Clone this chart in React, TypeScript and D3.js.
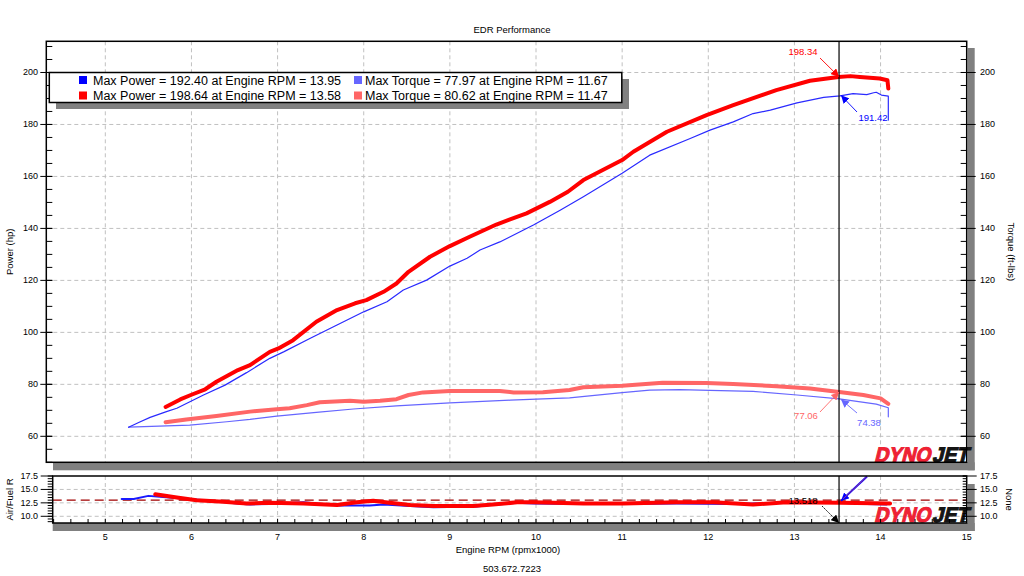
import React from "react";
import * as d3 from "d3";

// ---------- data ----------
const powerRun1Rpm = [5.27, 5.4, 5.52, 5.71, 5.83, 6.14, 6.39, 6.64, 6.91, 7.07, 7.38, 7.69, 8.0, 8.27, 8.46, 8.73, 9.0, 9.2, 9.35, 9.58, 9.97, 10.28, 10.55, 11.0, 11.32, 11.79, 12.02, 12.29, 12.52, 12.72, 13.03, 13.34, 13.53, 13.68, 13.84, 13.92, 13.95, 14.01, 14.09, 14.09];
const powerRun1Hp = [63.5, 65.5, 67.3, 69.5, 70.8, 75.9, 79.7, 84.5, 90.0, 92.5, 97.7, 102.8, 107.9, 111.8, 116.3, 120.1, 125.5, 128.5, 131.7, 134.8, 141.3, 147.0, 152.2, 161.2, 168.2, 174.6, 177.8, 181.0, 184.2, 185.5, 188.3, 190.4, 191.0, 191.9, 191.5, 192.2, 192.4, 191.3, 190.9, 181.7];

const powerRun2Rpm = [5.7, 5.87, 6.0, 6.16, 6.29, 6.54, 6.68, 6.91, 7.01, 7.18, 7.45, 7.69, 7.9, 8.03, 8.23, 8.38, 8.52, 8.77, 9.0, 9.23, 9.54, 9.89, 10.16, 10.37, 10.55, 11.0, 11.13, 11.52, 11.98, 12.29, 12.79, 13.18, 13.51, 13.65, 13.76, 13.99, 14.08, 14.09];
const powerRun2Hp = [71.3, 74.2, 76.0, 78.1, 81.0, 85.5, 87.4, 92.5, 93.8, 97.0, 104.1, 108.6, 111.2, 112.4, 115.6, 118.8, 123.3, 129.1, 133.2, 136.8, 141.5, 145.8, 150.2, 154.1, 158.6, 166.3, 169.5, 177.2, 183.6, 187.4, 193.2, 196.8, 198.3, 198.6, 198.3, 197.7, 197.0, 193.8];

const torqueRun1Rpm = [5.27, 5.98, 6.41, 6.68, 6.99, 7.45, 7.88, 8.38, 9.0, 9.7, 10.39, 11.0, 11.32, 11.67, 12.02, 12.52, 13.03, 13.52, 13.95, 14.09, 14.09];
const torqueRun1Tq = [63.5, 64.3, 65.6, 66.5, 67.8, 69.2, 70.5, 71.7, 72.9, 73.9, 74.8, 76.8, 77.8, 77.97, 77.7, 77.3, 75.9, 74.38, 72.4, 71.0, 67.5];

const torqueRun2Rpm = [5.7, 5.94, 6.29, 6.68, 6.99, 7.14, 7.34, 7.49, 7.84, 8.0, 8.19, 8.38, 8.52, 8.69, 9.0, 9.58, 9.74, 10.08, 10.39, 10.55, 11.0, 11.47, 11.98, 12.29, 12.79, 13.18, 13.52, 13.8, 14.0, 14.09];
const torqueRun2Tq = [65.4, 66.5, 67.8, 69.5, 70.4, 70.8, 72.0, 73.1, 73.7, 73.3, 73.7, 74.3, 75.9, 76.9, 77.4, 77.4, 76.9, 77.0, 77.8, 78.9, 79.5, 80.6, 80.5, 80.1, 79.3, 78.4, 77.06, 75.9, 74.6, 72.5];

const afrRun1Rpm = [5.19, 5.33, 5.5, 5.67, 5.98, 6.22, 6.53, 6.68, 6.91, 7.3, 7.57, 7.72, 8.07, 8.23, 8.54, 8.81, 9.31, 9.47, 9.78, 9.97, 10.55, 11.0, 11.63, 12.29, 12.91, 13.53, 13.84, 14.07];
const afrRun1 = [13.2, 13.2, 13.8, 13.6, 13.2, 12.9, 12.4, 12.2, 12.3, 12.6, 12.2, 12.0, 12.0, 12.2, 11.9, 11.7, 11.8, 12.1, 12.5, 12.4, 12.3, 12.3, 12.4, 12.3, 12.5, 12.5, 12.3, 12.2];
const afrRun2Rpm = [5.58, 5.83, 6.06, 6.37, 6.64, 6.91, 7.3, 7.69, 7.92, 8.11, 8.3, 8.54, 8.81, 9.27, 9.5, 9.78, 9.97, 10.55, 11.01, 11.63, 12.06, 12.52, 12.91, 13.53, 14.11];
const afrRun2 = [14.1, 13.5, 13.0, 12.7, 12.4, 12.5, 12.4, 12.1, 12.6, 12.9, 12.5, 12.1, 11.9, 11.9, 12.2, 12.6, 12.6, 12.4, 12.4, 12.6, 12.6, 12.2, 12.6, 12.5, 12.4];

const legendLines = [
  ["Max Power = 192.40 at Engine RPM = 13.95", "Max Torque = 77.97 at Engine RPM = 11.67"],
  ["Max Power = 198.64 at Engine RPM = 13.58", "Max Torque = 80.62 at Engine RPM = 11.47"],
];
const xTicks = [5, 6, 7, 8, 9, 10, 11, 12, 13, 14, 15];
const yTicks = [60, 80, 100, 120, 140, 160, 180, 200];
const afrTicks = [10, 12.5, 15, 17.5];
const cursorRpm = 13.518;
const afrTarget = 13.0;

const FONT = "Tahoma, 'Liberation Sans', Arial, sans-serif";

export default function App() {
  const W = 1024, H = 576;
  const L = 46.3, R = 966.7, T = 41.3, B = 462.3;
  const x = d3.scaleLinear().domain([4.315, 15]).range([L, R]);
  const y = d3.scaleLinear().domain([50, 212]).range([B, T]);
  const lT = 476, lB = 523, lL = 52.7;
  const ya = d3.scaleLinear().domain([8.75, 17.5]).range([lB, lT]);

  const mk = (xs: number[], ys: number[]) => xs.map((r, i) => [r, ys[i]] as [number, number]);
  const line = d3.line<[number, number]>().x(d => x(d[0])).y(d => y(d[1]));
  const lineA = d3.line<[number, number]>().x(d => x(d[0])).y(d => ya(d[1]));

  const minorY = d3.range(50, 212.01, 5);
  const minorA = d3.range(9, 17.51, 0.5);
  const minorX = d3.range(4.4, 15.001, 0.2);
  const cx = x(cursorRpm);

  const logo = (lx: number, ly: number) => (
    <g transform={`translate(${lx},${ly}) skewX(-14)`} fontFamily="'Liberation Sans', Arial, sans-serif" fontWeight="bold" fontSize={21}>
      <text x={2} y={0} textLength={56} lengthAdjust="spacingAndGlyphs" fill="#ee2233" stroke="#ee2233" strokeWidth={1.1}>DYNO</text>
      <text x={60} y={0} textLength={36} lengthAdjust="spacingAndGlyphs" fill="#151515" stroke="#151515" strokeWidth={1.1}>JET</text>
    </g>
  );

  const arrow = (x1: number, y1: number, x2: number, y2: number, color: string, id: string, dash?: string) => (
    <line x1={x1} y1={y1} x2={x2} y2={y2} stroke={color} strokeWidth={0.9} strokeDasharray={dash} markerEnd={`url(#${id})`} />
  );

  return (
    <svg width={W} height={H} style={{ position: "absolute", left: 0, top: 0, background: "#fff" }} fontFamily={FONT}>
      <defs>
        {[["arR", "#ff0000"], ["arB", "#0000ff"], ["arS", "#ff6666"], ["arL", "#6666ff"], ["arK", "#000"]].map(([id, c]) => (
          <marker key={id} id={id} viewBox="0 0 10 10" refX={10} refY={5} markerWidth={8} markerHeight={8} markerUnits="userSpaceOnUse" orient="auto">
            <path d="M0,0 L10,5 L0,10 z" fill={c} />
          </marker>
        ))}
        <clipPath id="mainClip"><rect x={L} y={T} width={R - L} height={B - T} /></clipPath>
        <clipPath id="lowClip"><rect x={lL} y={lT} width={R - lL} height={lB - lT} /></clipPath>
      </defs>

      <text x={512} y={33} textAnchor="middle" fontSize={9.5} fill="#000">EDR Performance</text>

      {/* main panel shadows */}
      <rect x={R + 1} y={48} width={7} height={B - 48 + 8} fill="#808080" />
      <rect x={53} y={B} width={R + 8 - 53} height={8} fill="#808080" />

      {/* grid */}
      <g stroke="#c0c0c0" strokeDasharray="4,3" strokeWidth={1}>
        {xTicks.filter(t => t < 15).map(t => <line key={"gx" + t} x1={x(t)} x2={x(t)} y1={T} y2={B} />)}
        {yTicks.map(t => <line key={"gy" + t} x1={L} x2={R} y1={y(t)} y2={y(t)} />)}
      </g>

      {/* curves */}
      <g clipPath="url(#mainClip)" fill="none" strokeLinejoin="round" strokeLinecap="round">
        <path d={line(mk(torqueRun1Rpm, torqueRun1Tq)) || ""} stroke="#6666ff" strokeWidth={1.2} />
        <path d={line(mk(powerRun1Rpm, powerRun1Hp)) || ""} stroke="#2a2aff" strokeWidth={1.2} />
        <path d={line(mk(torqueRun2Rpm, torqueRun2Tq)) || ""} stroke="#ff6666" strokeWidth={4} />
        <path d={line(mk(powerRun2Rpm, powerRun2Hp)) || ""} stroke="#ff0000" strokeWidth={4} />
      </g>

      {/* cursor */}
      <line x1={cx} x2={cx} y1={T} y2={B} stroke="#000" strokeWidth={1.2} />

      {/* annotations */}
      <text x={803} y={55} textAnchor="middle" fontSize={9.5} fill="#ff0000">198.34</text>
      {arrow(820, 58, cx, y(198.34), "#ff0000", "arR")}
      <text x={873} y={121} textAnchor="middle" fontSize={9.5} fill="#0000ff">191.42</text>
      {arrow(857, 112, cx + 2, y(191.2), "#0000ff", "arB")}
      <text x={806} y={419} textAnchor="middle" fontSize={9.5} fill="#ff6666">77.06</text>
      {arrow(820, 412, cx, y(77.06), "#ff6666", "arS")}
      <text x={869} y={426} textAnchor="middle" fontSize={9.5} fill="#6666ff">74.38</text>
      {arrow(857, 413, cx + 2, y(74.2), "#6666ff", "arL")}

      {logo(872, 462)}

      {/* main frame */}
      <rect x={L} y={T} width={R - L} height={B - T} fill="none" stroke="#000" strokeWidth={1.5} />
      <g stroke="#000" strokeWidth={1}>
        {minorY.map(t => <line key={"ml" + t} x1={L} x2={L + 6} y1={y(t)} y2={y(t)} />)}
        {yTicks.map(t => <line key={"Ml" + t} x1={L - 6} x2={L + 6} y1={y(t)} y2={y(t)} />)}
        {minorY.map(t => <line key={"mr" + t} x1={R - 6} x2={R} y1={y(t)} y2={y(t)} />)}
        {yTicks.map(t => <line key={"Mr" + t} x1={R - 6} x2={R + 9} y1={y(t)} y2={y(t)} />)}
      </g>
      <g fontSize={9} fill="#000">
        {yTicks.map(t => <text key={"tl" + t} x={38} y={y(t) + 3} textAnchor="end">{t}</text>)}
        {yTicks.map(t => <text key={"tr" + t} x={980} y={y(t) + 3}>{t}</text>)}
      </g>
      <text transform={`translate(13,${(T + B) / 2}) rotate(-90)`} textAnchor="middle" fontSize={9.5}>Power (hp)</text>
      <text transform={`translate(1008,${(T + B) / 2}) rotate(90)`} textAnchor="middle" fontSize={9.5}>Torque (ft-lbs)</text>

      {/* legend */}
      <rect x={56} y={79} width={573} height={30} fill="#808080" />
      <rect x={49.3} y={72.5} width={572.5} height={30} fill="#fff" stroke="#000" strokeWidth={1.5} />
      {[["#0000ff", "#6666ff"], ["#ff0000", "#ff6666"]].map((cols, r) => (
        <g key={"lg" + r}>
          <rect x={79} y={76 + r * 15.5} width={8} height={8} fill={cols[0]} />
          <text x={93} y={84.5 + r * 15.5} fontSize={12.5} fill="#000">{legendLines[r][0]}</text>
          <rect x={354} y={76 + r * 15.5} width={8} height={8} fill={cols[1]} />
          <text x={365} y={84.5 + r * 15.5} fontSize={12.5} fill="#000">{legendLines[r][1]}</text>
        </g>
      ))}

      {/* lower panel */}
      <rect x={R + 1} y={484} width={7} height={lB - 484 + 8} fill="#808080" />
      <rect x={lL} y={lB} width={R + 8 - lL} height={8} fill="#808080" />
      <g stroke="#c0c0c0" strokeDasharray="4,3" strokeWidth={1}>
        {xTicks.filter(t => t < 15).map(t => <line key={"agx" + t} x1={x(t)} x2={x(t)} y1={lT} y2={lB} />)}
        {afrTicks.filter(t => t < 17.5).map(t => <line key={"agy" + t} x1={lL} x2={R} y1={ya(t)} y2={ya(t)} />)}
      </g>
      <line x1={lL} x2={R} y1={ya(afrTarget)} y2={ya(afrTarget)} stroke="#a00000" strokeWidth={1.2} strokeDasharray="9,5" />
      <g clipPath="url(#lowClip)" fill="none" strokeLinejoin="round" strokeLinecap="round">
        <path d={lineA(mk(afrRun1Rpm, afrRun1)) || ""} stroke="#1a1aff" strokeWidth={2} />
        <path d={lineA(mk(afrRun2Rpm, afrRun2)) || ""} stroke="#ff0000" strokeWidth={4} />
      </g>
      <line x1={cx} x2={cx} y1={lT} y2={lB} stroke="#000" strokeWidth={1.2} />
      <line x1={867} y1={476.5} x2={cx + 2} y2={ya(12.5) - 2} stroke="#0000ff" strokeWidth={2} markerEnd="url(#arB)" />
      <line x1={867} y1={476.5} x2={cx + 4} y2={ya(12.5) - 4} stroke="#ff5050" strokeWidth={0.6} />
      <text x={803} y={504} textAnchor="middle" fontSize={9.5} fill="#000">13.518</text>
      {arrow(822, 506, cx, lB, "#000", "arK", "2,1")}
      {logo(872, 522)}
      <rect x={lL} y={lT} width={R - lL} height={lB - lT} fill="none" stroke="#000" strokeWidth={1.5} />
      <g stroke="#000" strokeWidth={1}>
        {minorX.map(t => <line key={"xt" + t.toFixed(1)} x1={x(t)} x2={x(t)} y1={lB - 4} y2={lB} />)}
        {minorA.map(t => <line key={"al" + t} x1={lL - 5} x2={lL} y1={ya(t)} y2={ya(t)} />)}
        {afrTicks.map(t => <line key={"Al" + t} x1={lL - 12} x2={lL} y1={ya(t)} y2={ya(t)} />)}
        {minorA.map(t => <line key={"ar" + t} x1={R - 4} x2={R} y1={ya(t)} y2={ya(t)} />)}
        {afrTicks.map(t => <line key={"Ar" + t} x1={R - 4} x2={R + 10} y1={ya(t)} y2={ya(t)} />)}
      </g>
      <g fontSize={9} fill="#000">
        {afrTicks.map(t => <text key={"atl" + t} x={38} y={ya(t) + 3} textAnchor="end">{t.toFixed(1)}</text>)}
        {afrTicks.map(t => <text key={"atr" + t} x={980} y={ya(t) + 3}>{t.toFixed(1)}</text>)}
        {xTicks.map(t => <text key={"xl" + t} x={x(t)} y={540} textAnchor="middle">{t}</text>)}
      </g>
      <text transform={`translate(13,${(lT + lB) / 2}) rotate(-90)`} textAnchor="middle" fontSize={9.5}>Air/Fuel R</text>
      <text transform={`translate(1006,${(lT + lB) / 2}) rotate(90)`} textAnchor="middle" fontSize={9.5}>None</text>
      <text x={508} y={553} textAnchor="middle" fontSize={9.5}>Engine RPM (rpmx1000)</text>
      <text x={512} y={572} textAnchor="middle" fontSize={9.5}>503.672.7223</text>
    </svg>
  );
}
